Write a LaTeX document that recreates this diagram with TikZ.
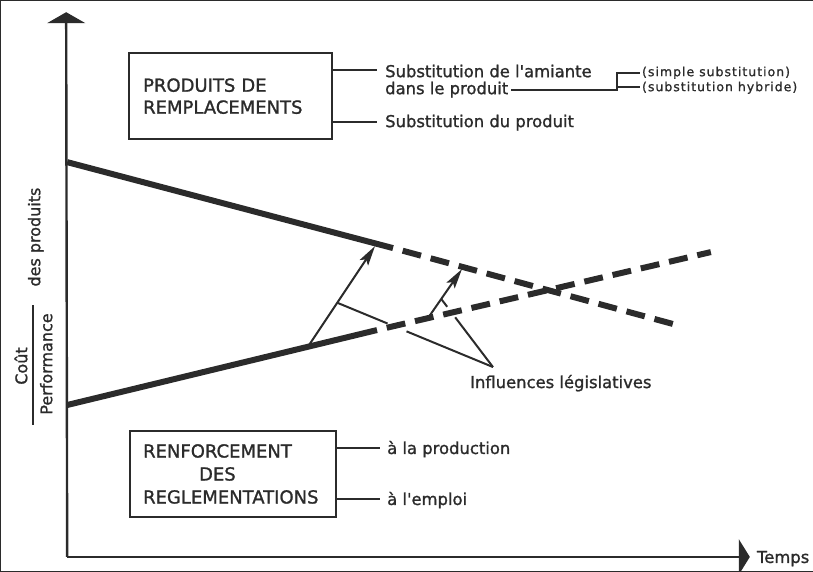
\documentclass[tikz,border=0pt]{standalone}
\usepackage{fontspec}
\setmainfont{DejaVu Sans}[Ligatures=TeXOff, FakeBold=1.2]
\newfontfamily\smallfont{DejaVu Sans}[Ligatures=TeXOff, LetterSpace=8, FakeBold=1]
\usetikzlibrary{arrows.meta,calc}
\definecolor{ink}{HTML}{2B2B2B}
\begin{document}
\begin{tikzpicture}[x=1pt,y=-1pt, every path/.style={draw=ink}, every node/.style={text=ink},
  lab/.style={font=\fontsize{16.4}{18}\selectfont, inner sep=0pt},
  vlab/.style={font=\fontsize{16}{18}\selectfont, inner sep=0pt, rotate=90, anchor=base},
  slab/.style={font=\smallfont\fontsize{12.5}{15}\selectfont, inner sep=0pt},
  boxst/.style={draw=ink, line width=2.6pt, minimum height=86pt, align=left, inner sep=0pt},
  tick/.style={line width=1.4pt},
  axis/.style={line width=2.4pt},
  thickline/.style={line width=6pt},
  dashline/.style={line width=6pt, dash pattern=on 19pt off 10pt, dash phase=19pt},
  infl/.style={line width=2pt, -{Stealth[length=20pt,width=10pt,inset=4pt]}},
  pointer/.style={line width=2pt}
]
\useasboundingbox (0,0) rectangle (813,571);
% axes
\coordinate (orig) at (67,557);
\coordinate (ytip) at (66,12);
\coordinate (xtip) at (750,557);
\draw[axis, -{Triangle[length=11pt,width=38pt]}] (orig) -- (ytip);
\draw[axis, -{Triangle[length=11pt,width=35pt]}] (orig) -- (xtip);
\node[lab, anchor=base west] (temps) at (757,563) {Temps};
% vertical label
\node[vlab] (cout) at (27,366) {Coût};
\node[vlab] (perf) at (52,364) {Performance};
\coordinate (fb1) at (33,305);
\coordinate (fb2) at (33,425);
\draw[line width=1.5pt] (fb1) -- (fb2);
\node[vlab] (desprod) at (40,237) {des produits};
% box 1
\node[boxst, minimum width=203pt, text width=175pt,
  font=\fontsize{18}{22}\selectfont] (box1) at (230.5,96)
  {PRODUITS DE\\REMPLACEMENTS};
\node[lab, anchor=base west] (s1) at (385,77) {Substitution de l'amiante};
\node[lab, anchor=base west] (s2) at (385,94) {dans le produit};
\node[lab, anchor=base west] (s3) at (385,127) {Substitution du produit};
\draw[tick] (box1.east |- 0,70) -- ([xshift=-8pt]s1.west |- 0,70);
\draw[tick] (box1.east |- 0,122) -- ([xshift=-8pt]s3.west |- 0,122);
\node[slab, anchor=base west] (ss1) at (642,76) {(simple substitution)};
\node[slab, anchor=base west] (ss2) at (642,91) {(substitution hybride)};
\coordinate (br) at (617,90);
\draw[tick] ([xshift=3pt]s2.east |- br) -- (br) -- (617,73) -- ([xshift=-2pt]ss1.west |- 0,73);
\draw[tick] (617,87) -- ([xshift=-2pt]ss2.west |- 0,87);
% box 2
\node[boxst, minimum width=206pt, text width=180pt,
  font=\fontsize{18}{23}\selectfont] (box2) at (233,474)
  {RENFORCEMENT\\\hspace*{56pt}DES\\REGLEMENTATIONS};
\node[lab, anchor=base west] (p1) at (387,454) {à la production};
\node[lab, anchor=base west] (p2) at (387,505) {à l'emploi};
\draw[tick] (box2.east |- 0,448) -- ([xshift=-7pt]p1.west |- 0,448);
\draw[tick] (box2.east |- 0,499) -- ([xshift=-7pt]p2.west |- 0,499);
% curves
\coordinate (u0) at (67,162);
\coordinate (u1) at (393,248);
\coordinate (u2) at (677,325);
\coordinate (l0) at (67,405);
\coordinate (l1) at (377,330);
\coordinate (l2) at (711,252);
\draw[thickline] (u0) -- (u1);
\draw[dashline] (u1) -- (u2);
\draw[thickline] (l0) -- (l1);
\draw[dashline] (l1) -- (l2);
% legislative arrows
\coordinate (a1t) at (308,346.5);
\coordinate (a1h) at (375,246);
\coordinate (a2t) at (428,318);
\coordinate (a2h) at (462,269);
\draw[infl] (a1t) -- (a1h);
\draw[infl] (a2t) -- (a2h);
\node[lab, anchor=base west] (infl) at (470,388) {Influences législatives};
\coordinate (apex) at (493,367);
\coordinate (b1) at ($(a1t)!0.436!(a1h)$);
\coordinate (b2) at ($(a2t)!0.39!(a2h)$);
\draw[pointer] (apex) -- ($(apex)!0.555!(b1)$);
\draw[pointer] ($(apex)!0.677!(b1)$) -- (b1);
\draw[pointer] (apex) -- ($(apex)!0.73!(b2)$);
\draw[pointer] ($(apex)!0.885!(b2)$) -- (b2);
\end{tikzpicture}
\end{document}
